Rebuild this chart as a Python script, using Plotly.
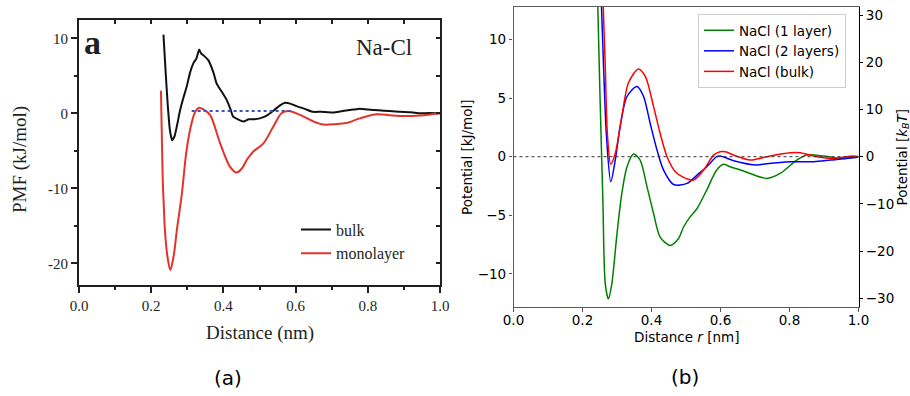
import plotly.graph_objects as go

# ---------------- panel (a): PMF of the Na-Cl pair ----------------
bulk_r = [0.234, 0.240, 0.246, 0.252, 0.258, 0.265, 0.272, 0.280, 0.290, 0.298,
          0.308, 0.317, 0.325, 0.333, 0.338, 0.348, 0.358, 0.372, 0.381, 0.395,
          0.409, 0.420, 0.427, 0.440, 0.455, 0.470, 0.485, 0.501, 0.520, 0.540,
          0.555, 0.571, 0.585, 0.600, 0.625, 0.648, 0.670, 0.704, 0.730, 0.760,
          0.778, 0.800, 0.830, 0.860, 0.889, 0.920, 0.945, 0.970, 1.000]
bulk_pmf = [10.5, 5.5, 1.0, -2.3, -3.6, -3.0, -1.5, 0.4, 2.2, 3.5,
            5.5, 6.7, 7.3, 8.5, 8.0, 7.6, 7.1, 5.5, 4.0, 2.9,
            1.8, 0.5, -0.45, -0.8, -1.1, -0.8, -0.8, -0.67, -0.3, 0.4,
            1.0, 1.4, 1.3, 1.0, 0.6, 0.2, 0.2, 0.1, 0.3, 0.5,
            0.6, 0.5, 0.4, 0.3, 0.2, 0.15, 0.0, 0.05, 0.0]

mono_r = [0.227, 0.229, 0.232, 0.235, 0.238, 0.245, 0.253, 0.262, 0.271, 0.285,
          0.298, 0.312, 0.322, 0.333, 0.345, 0.363, 0.391, 0.418, 0.437, 0.452,
          0.465, 0.483, 0.511, 0.538, 0.561, 0.580, 0.612, 0.650, 0.677, 0.710,
          0.740, 0.778, 0.825, 0.860, 0.889, 0.945, 1.000]
mono_pmf = [3.0, -2.0, -8.9, -12.5, -15.6, -19.1, -20.9, -19.1, -15.6, -10.7,
            -4.9, -1.3, 0.2, 0.75, 0.5, -0.2, -4.0, -7.1, -7.9, -7.3,
            -6.2, -5.1, -4.0, -1.8, 0.0, 0.3, -0.2, -1.1, -1.5, -1.45,
            -1.3, -0.67, -0.13, -0.25, -0.36, -0.3, 0.0]

ref_r = [0.312, 0.589]
ref_pmf = [0.3, 0.3]

a_xticks = [0.0, 0.2, 0.4, 0.6, 0.8, 1.0]
a_xlabels = ["0.0", "0.2", "0.4", "0.6", "0.8", "1.0"]
a_yticks = [10, 0, -10, -20]
a_ylabels = ["10", "0", "-10", "-20"]

# ---------------- panel (b): potentials for NaCl ----------------
layer1_r = [0.240, 0.251, 0.259, 0.266, 0.275, 0.285, 0.300, 0.314, 0.329, 0.348,
            0.367, 0.387, 0.406, 0.425, 0.454, 0.478, 0.493, 0.512, 0.532, 0.560,
            0.589, 0.609, 0.628, 0.660, 0.686, 0.734, 0.773, 0.821, 0.850, 0.899,
            0.947, 0.995, 1.000]
layer1_v = [18.0, 4.86, -3.7, -10.85, -12.13, -10.85, -6.57, -3.14, -0.86, 0.23,
            -0.29, -2.57, -4.85, -6.86, -7.57, -7.0, -6.0, -5.14, -4.42, -2.85,
            -1.14, -0.65, -0.86, -1.15, -1.43, -1.85, -1.43, -0.29, 0.14, 0.06,
            -0.14, 0.0, 0.0]

layer2_r = [0.249, 0.261, 0.269, 0.282, 0.295, 0.309, 0.329, 0.358, 0.377, 0.396,
            0.416, 0.435, 0.464, 0.503, 0.532, 0.560, 0.589, 0.599, 0.638, 0.705,
            0.734, 0.802, 0.870, 0.918, 0.995, 1.000]
layer2_v = [18.0, 7.7, 2.0, -2.14, -0.28, 2.57, 5.14, 6.0, 5.14, 2.86,
            0.57, -1.14, -2.37, -2.28, -1.57, -0.86, 0.0, 0.06, -0.34, -0.71,
            -0.6, -0.43, -0.43, -0.29, -0.05, 0.0]

bulkb_r = [0.254, 0.266, 0.272, 0.282, 0.295, 0.314, 0.333, 0.362, 0.382, 0.406,
           0.425, 0.445, 0.469, 0.493, 0.522, 0.551, 0.580, 0.599, 0.614, 0.638,
           0.686, 0.705, 0.744, 0.802, 0.831, 0.879, 0.928, 0.986, 1.000]
bulkb_v = [18.0, 7.7, 2.0, -0.65, 0.29, 3.43, 6.29, 7.49, 6.86, 4.28,
           2.0, 0.0, -1.28, -1.77, -2.0, -1.14, 0.14, 0.43, 0.43, 0.14,
           -0.29, -0.2, 0.06, 0.34, 0.34, 0.0, -0.14, 0.06, 0.0]

b_ticks = [0.0, 0.2, 0.4, 0.6, 0.8, 1.0]
b_left_ticks = [-10, -5, 0, 5, 10]
b_right_ticks = [-30, -20, -10, 0, 10, 20, 30]
b_left_range = [-12.83, 12.78]
KT_SCALE = 2.481  # right-axis units per left-axis unit

W, H = 910, 396
SERIF = "Liberation Serif"
SANS = "DejaVu Sans"


def px(x):
    return x / W


def py(y):
    return 1 - y / H


fig = go.Figure()

# panel (a) curves
fig.add_trace(go.Scatter(x=bulk_r, y=bulk_pmf, mode="lines", name="bulk",
                         line=dict(color="#111111", width=2, shape="spline", smoothing=0.5),
                         xaxis="x", yaxis="y", legend="legend"))
fig.add_trace(go.Scatter(x=mono_r, y=mono_pmf, mode="lines", name="monolayer",
                         line=dict(color="#e5322a", width=2, shape="spline", smoothing=0.9),
                         xaxis="x", yaxis="y", legend="legend"))
fig.add_trace(go.Scatter(x=ref_r, y=ref_pmf, mode="lines", showlegend=False,
                         line=dict(color="#3b52b8", width=2, dash="dot"),
                         xaxis="x", yaxis="y"))
# carrier for the inside tick axes on top/right of panel (a)
fig.add_trace(go.Scatter(x=[0, 1], y=[0, 0], mode="markers", showlegend=False,
                         marker=dict(opacity=0), hoverinfo="skip",
                         xaxis="x4", yaxis="y4"))

# panel (b) curves
fig.add_trace(go.Scatter(x=[0, 1], y=[0, 0], mode="lines", showlegend=False,
                         line=dict(color="#333333", width=1, dash="dot"),
                         hoverinfo="skip", xaxis="x2", yaxis="y3"))
fig.add_trace(go.Scatter(x=layer1_r, y=layer1_v, mode="lines", name="NaCl (1 layer)",
                         line=dict(color="#008000", width=1.5, shape="spline", smoothing=0.8),
                         xaxis="x2", yaxis="y2", legend="legend2"))
fig.add_trace(go.Scatter(x=layer2_r, y=layer2_v, mode="lines", name="NaCl (2 layers)",
                         line=dict(color="#0000ff", width=1.5, shape="spline", smoothing=0.8),
                         xaxis="x2", yaxis="y2", legend="legend2"))
fig.add_trace(go.Scatter(x=bulkb_r, y=bulkb_v, mode="lines", name="NaCl (bulk)",
                         line=dict(color="#ff0000", width=1.5, shape="spline", smoothing=0.8),
                         xaxis="x2", yaxis="y2", legend="legend2"))

a_dom_x = [px(79), px(440)]
a_dom_y = [py(285), py(20)]
b_dom_x = [px(513.5), px(858.5)]
b_dom_y = [py(307), py(7)]

a_tickfont = dict(family=SERIF, size=15, color="#231f20")
b_tickfont = dict(family=SANS, size=13.5, color="#000000")

fig.update_layout(
    template="none",
    width=W, height=H,
    margin=dict(l=0, r=0, t=0, b=0, autoexpand=False),
    paper_bgcolor="white", plot_bgcolor="white",
    font=dict(family=SANS, color="#000000"),
    showlegend=True,
    xaxis=dict(domain=a_dom_x, anchor="y", range=[0, 1], automargin=False,
               tickvals=a_xticks, ticktext=a_xlabels,
               ticks="outside", ticklen=6, tickwidth=1.5, tickcolor="#231f20",
               minor=dict(tickvals=[0.1, 0.3, 0.5, 0.7, 0.9], ticks="outside",
                          ticklen=3, tickwidth=1.5, tickcolor="#231f20"),
               showline=True, linecolor="#231f20", linewidth=2, mirror=True,
               showgrid=False, zeroline=False, tickfont=a_tickfont),
    yaxis=dict(domain=a_dom_y, anchor="x", range=[-22.9, 12.45], automargin=False,
               tickvals=a_yticks, ticktext=a_ylabels,
               ticks="outside", ticklen=6, tickwidth=1.5, tickcolor="#231f20",
               minor=dict(tickvals=[5, -5, -15], ticks="outside",
                          ticklen=3, tickwidth=1.5, tickcolor="#231f20"),
               showline=True, linecolor="#231f20", linewidth=2, mirror=True,
               showgrid=False, zeroline=False, tickfont=a_tickfont),
    xaxis4=dict(overlaying="x", anchor="y", side="top", range=[0, 1], automargin=False,
                tickvals=[0.1 * i for i in range(1, 10)], showticklabels=False,
                ticks="inside", ticklen=4, tickwidth=1.5, tickcolor="#231f20",
                showline=False, showgrid=False, zeroline=False),
    yaxis4=dict(overlaying="y", anchor="x", side="right", range=[-22.9, 12.45],
                automargin=False,
                tickvals=[10, 5, 0, -5, -10, -15, -20], showticklabels=False,
                ticks="inside", ticklen=4, tickwidth=1.5, tickcolor="#231f20",
                showline=False, showgrid=False, zeroline=False),
    xaxis2=dict(domain=b_dom_x, anchor="y2", range=[0, 1], automargin=False,
                tickvals=b_ticks, tickformat=".1f", ticklabelstandoff=-3,
                ticks="outside", ticklen=3.5, tickwidth=1, tickcolor="#555555",
                showline=True, linecolor="#5a5a5a", linewidth=1.2, mirror=True,
                showgrid=False, zeroline=False, tickfont=b_tickfont),
    yaxis2=dict(domain=b_dom_y, anchor="x2", range=b_left_range, automargin=False,
                tickvals=b_left_ticks,
                ticks="outside", ticklen=3.5, tickwidth=1, tickcolor="#555555",
                showline=True, linecolor="#5a5a5a", linewidth=1.2,
                showgrid=False, zeroline=False, tickfont=b_tickfont),
    yaxis3=dict(overlaying="y2", anchor="x2", side="right", automargin=False,
                range=[b_left_range[0] * KT_SCALE, b_left_range[1] * KT_SCALE],
                tickvals=b_right_ticks,
                ticks="outside", ticklen=3.5, tickwidth=1, tickcolor="#000000",
                showline=True, linecolor="#000000", linewidth=1.2,
                showgrid=False, zeroline=False, tickfont=b_tickfont),
    legend=dict(x=px(296), y=py(212.5), xanchor="left", yanchor="top",
                bgcolor="rgba(0,0,0,0)", borderwidth=0,
                font=dict(family=SERIF, size=16, color="#231f20")),
    legend2=dict(x=px(698), y=py(14), xanchor="left", yanchor="top",
                 bgcolor="rgba(255,255,255,0.8)", bordercolor="#cccccc", borderwidth=1,
                 font=dict(family=SANS, size=13.5, color="#000000")),
)

annotations = [
    # panel (a) texts
    dict(text="<b>a</b>", x=px(82), y=py(42), xanchor="left", yanchor="middle",
         font=dict(family=SERIF, size=34, color="#231f20")),
    dict(text="Na-Cl", x=px(414), y=py(47), xanchor="right", yanchor="middle",
         font=dict(family=SERIF, size=23, color="#231f20")),
    dict(text="Distance (nm)", x=px(259.5), y=py(333), xanchor="center", yanchor="middle",
         font=dict(family=SERIF, size=19, color="#231f20")),
    dict(text="PMF (kJ/mol)", x=px(20), y=py(160), xanchor="center", yanchor="middle",
         textangle=-90, font=dict(family=SERIF, size=19, color="#231f20")),
    dict(text="(a)", x=px(228), y=py(378), xanchor="center", yanchor="middle",
         font=dict(family=SANS, size=20, color="#000000")),
    # panel (b) texts
    dict(text="Distance <i>r</i> [nm]", x=px(686), y=py(337), xanchor="center",
         yanchor="middle", font=dict(family=SANS, size=13.5, color="#000000")),
    dict(text="Potential [kJ/mol]", x=px(467), y=py(157), xanchor="center",
         yanchor="middle", textangle=-90,
         font=dict(family=SANS, size=13.5, color="#000000")),
    dict(text="Potential [<i>k</i><sub><i>B</i></sub><i>T</i>]", x=px(902.5), y=py(157),
         xanchor="center", yanchor="middle", textangle=-90,
         font=dict(family=SANS, size=13.5, color="#000000")),
    dict(text="(b)", x=px(685), y=py(377), xanchor="center", yanchor="middle",
         font=dict(family=SANS, size=20, color="#000000")),
]
for a in annotations:
    a.update(xref="paper", yref="paper", showarrow=False)
fig.update_layout(annotations=annotations)

fig.write_html("out.html")
